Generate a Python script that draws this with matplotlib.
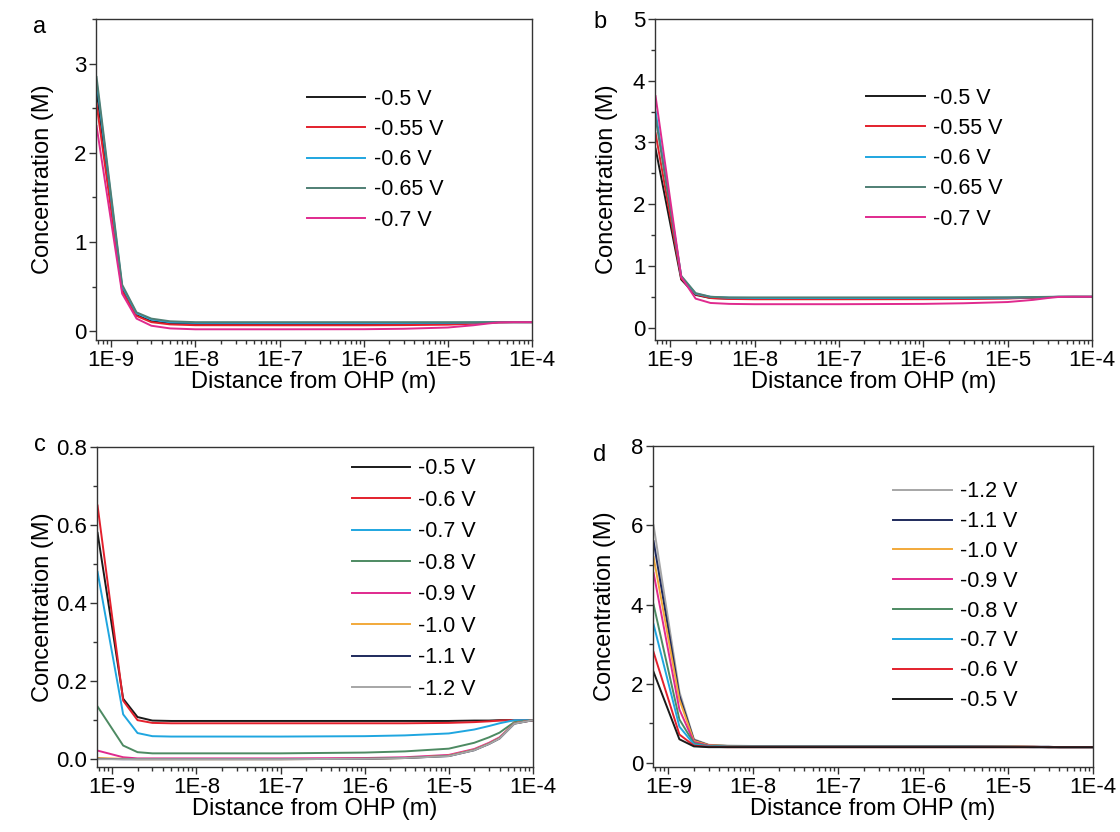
import numpy as np
import matplotlib
matplotlib.use("Agg")
import matplotlib.pyplot as plt
from matplotlib.ticker import FixedLocator, NullFormatter, LogLocator

plt.rcParams['font.family'] = ['Liberation Sans', 'DejaVu Sans']

# distance grid (m)
x = np.array([0.67e-9, 1.35e-9, 2e-9, 3e-9, 5e-9, 1e-8, 1e-7, 1e-6, 3e-6,
              1e-5, 2e-5, 3e-5, 4e-5, 6e-5, 1e-4])

# ---- panel a (bulk 0.1 M)
a_labels = ['-0.5 V', '-0.55 V', '-0.6 V', '-0.65 V', '-0.7 V']
a_m050 = [2.70, 0.48, 0.18, 0.11, 0.085, 0.080, 0.080, 0.080, 0.081, 0.084, 0.090, 0.095, 0.099, 0.100, 0.100]
a_m055 = [2.55, 0.45, 0.17, 0.10, 0.075, 0.066, 0.065, 0.065, 0.067, 0.072, 0.082, 0.091, 0.098, 0.100, 0.100]
a_m060 = [2.80, 0.50, 0.20, 0.13, 0.100, 0.092, 0.090, 0.090, 0.091, 0.093, 0.096, 0.098, 0.100, 0.100, 0.100]
a_m065 = [2.85, 0.52, 0.21, 0.14, 0.110, 0.100, 0.100, 0.100, 0.100, 0.100, 0.100, 0.100, 0.100, 0.100, 0.100]
a_m070 = [2.30, 0.42, 0.14, 0.06, 0.030, 0.020, 0.020, 0.021, 0.026, 0.040, 0.065, 0.085, 0.097, 0.100, 0.100]

# ---- panel b (bulk 0.5 M)
b_labels = ['-0.5 V', '-0.55 V', '-0.6 V', '-0.65 V', '-0.7 V']
b_m050 = [2.90, 0.78, 0.53, 0.48, 0.470, 0.470, 0.470, 0.470, 0.472, 0.478, 0.488, 0.495, 0.499, 0.500, 0.500]
b_m055 = [3.15, 0.80, 0.54, 0.48, 0.465, 0.460, 0.460, 0.461, 0.464, 0.472, 0.485, 0.494, 0.499, 0.500, 0.500]
b_m060 = [3.50, 0.83, 0.55, 0.50, 0.485, 0.480, 0.480, 0.480, 0.481, 0.485, 0.492, 0.497, 0.500, 0.500, 0.500]
b_m065 = [3.40, 0.84, 0.56, 0.50, 0.490, 0.490, 0.490, 0.490, 0.490, 0.492, 0.496, 0.499, 0.500, 0.500, 0.500]
b_m070 = [3.75, 0.82, 0.47, 0.40, 0.385, 0.380, 0.380, 0.385, 0.395, 0.415, 0.450, 0.480, 0.497, 0.500, 0.500]

# ---- panel c (bulk 0.1 M)
c_labels = ['-0.5 V', '-0.6 V', '-0.7 V', '-0.8 V', '-0.9 V', '-1.0 V', '-1.1 V', '-1.2 V']
c_m05 = [0.58, 0.155, 0.108, 0.099, 0.098, 0.098, 0.098, 0.098, 0.098, 0.098, 0.099, 0.099, 0.100, 0.100, 0.100]
c_m06 = [0.65, 0.150, 0.100, 0.093, 0.092, 0.092, 0.092, 0.092, 0.092, 0.093, 0.095, 0.097, 0.099, 0.100, 0.100]
c_m07 = [0.48, 0.115, 0.067, 0.059, 0.058, 0.058, 0.058, 0.059, 0.061, 0.066, 0.076, 0.085, 0.092, 0.100, 0.100]
c_m08 = [0.135, 0.035, 0.018, 0.015, 0.015, 0.015, 0.015, 0.017, 0.020, 0.027, 0.042, 0.056, 0.068, 0.095, 0.100]
c_m09 = [0.022, 0.005, 0.002, 0.002, 0.002, 0.002, 0.002, 0.003, 0.005, 0.011, 0.026, 0.042, 0.056, 0.092, 0.100]
c_m10 = [0.003, 0.001, 0.000, 0.000, 0.000, 0.000, 0.000, 0.001, 0.003, 0.009, 0.024, 0.040, 0.054, 0.092, 0.100]
c_m11 = [0.001, 0.000, 0.000, 0.000, 0.000, 0.000, 0.000, 0.001, 0.003, 0.008, 0.023, 0.039, 0.053, 0.091, 0.100]
c_m12 = [0.000, 0.000, 0.000, 0.000, 0.000, 0.000, 0.000, 0.001, 0.003, 0.008, 0.023, 0.039, 0.053, 0.091, 0.100]

# ---- panel d (bulk 0.4 M)
d_labels = ['-1.2 V', '-1.1 V', '-1.0 V', '-0.9 V', '-0.8 V', '-0.7 V', '-0.6 V', '-0.5 V']
d_m12 = [6.00, 1.80, 0.60, 0.46, 0.44, 0.43, 0.43, 0.43, 0.43, 0.42, 0.41, 0.41, 0.40, 0.40, 0.40]
d_m11 = [5.60, 1.70, 0.58, 0.45, 0.43, 0.43, 0.43, 0.43, 0.43, 0.42, 0.41, 0.41, 0.40, 0.40, 0.40]
d_m10 = [5.20, 1.60, 0.56, 0.45, 0.43, 0.42, 0.42, 0.42, 0.42, 0.42, 0.41, 0.40, 0.40, 0.40, 0.40]
d_m09 = [4.80, 1.35, 0.53, 0.44, 0.42, 0.42, 0.42, 0.42, 0.42, 0.41, 0.41, 0.40, 0.40, 0.40, 0.40]
d_m08 = [4.00, 1.10, 0.50, 0.43, 0.42, 0.42, 0.42, 0.42, 0.42, 0.41, 0.41, 0.40, 0.40, 0.40, 0.40]
d_m07 = [3.50, 0.92, 0.47, 0.42, 0.41, 0.41, 0.41, 0.41, 0.41, 0.41, 0.40, 0.40, 0.40, 0.40, 0.40]
d_m06 = [2.80, 0.72, 0.44, 0.41, 0.40, 0.40, 0.40, 0.40, 0.40, 0.40, 0.40, 0.40, 0.40, 0.40, 0.40]
d_m05 = [2.30, 0.60, 0.42, 0.40, 0.40, 0.40, 0.40, 0.40, 0.40, 0.40, 0.40, 0.40, 0.40, 0.40, 0.40]

BLACK = '#1a1a1a'
RED = '#e3202c'
CYAN = '#1fa6e0'
TEAL = '#4f7f74'
GREEN = '#4d8a62'
MAGENTA = '#e02a8e'
ORANGE = '#f2a93a'
NAVY = '#1e2a5c'
GRAY = '#a6a6a6'

xticks = [1e-9, 1e-8, 1e-7, 1e-6, 1e-5, 1e-4]
xticklabels = ['1E-9', '1E-8', '1E-7', '1E-6', '1E-5', '1E-4']

fig = plt.figure(figsize=(11.2, 8.32), dpi=100)
W, H = 1120, 832

def make_ax(l, r, t, b):
    return fig.add_axes([l / W, 1 - b / H, (r - l) / W, (b - t) / H])

TICKFS = 16
LABFS = 17
LEGFS = 15.5

def style(ax, ylim, yticks, ylabels, yminor, ylab_x):
    ax.set_xscale('log')
    ax.set_xlim(6.6e-10, 1e-4)
    ax.set_ylim(*ylim)
    ax.xaxis.set_major_locator(FixedLocator(xticks))
    ax.set_xticklabels(xticklabels)
    ax.xaxis.set_minor_locator(LogLocator(base=10, subs=np.arange(2, 10)))
    ax.xaxis.set_minor_formatter(NullFormatter())
    ax.set_yticks(yticks)
    ax.set_yticklabels(ylabels)
    ax.yaxis.set_minor_locator(FixedLocator(yminor))
    ax.tick_params(which='both', direction='out', top=False, right=False,
                   labelsize=TICKFS, width=1, color='#333333', pad=2)
    ax.tick_params(which='major', length=5)
    ax.tick_params(which='minor', length=3)
    for s in ax.spines.values():
        s.set_linewidth(1.0)
        s.set_color('#333333')
    ax.set_xlabel('Distance from OHP (m)', fontsize=LABFS, labelpad=0)
    ax.set_ylabel('Concentration (M)', fontsize=LABFS)
    ax.yaxis.set_label_coords(ylab_x, 0.5)

LW = 1.4
LEGKW = dict(loc='upper left', frameon=False, fontsize=LEGFS, handlelength=2.7,
             handletextpad=0.4, borderaxespad=0)

# panel a
ax = make_ax(96, 532, 19, 340)
for y, c, lab in zip([a_m050, a_m055, a_m060, a_m065, a_m070],
                     [BLACK, RED, CYAN, TEAL, MAGENTA], a_labels):
    ax.plot(x, y, color=c, lw=LW, label=lab)
style(ax, (-0.1, 3.5), [0, 1, 2, 3], ['0', '1', '2', '3'], [0.5, 1.5, 2.5, 3.5], -0.096)
ax.legend(bbox_to_anchor=(0.465, 0.81), labelspacing=0.43, **LEGKW)
fig.text(40 / W, 1 - 27 / H, 'a', fontsize=17, ha='center', va='center')

# panel b
ax = make_ax(655, 1092, 19, 340)
for y, c, lab in zip([b_m050, b_m055, b_m060, b_m065, b_m070],
                     [BLACK, RED, CYAN, TEAL, MAGENTA], b_labels):
    ax.plot(x, y, color=c, lw=LW, label=lab)
style(ax, (-0.2, 5.0), [0, 1, 2, 3, 4, 5], ['0', '1', '2', '3', '4', '5'],
      [0.5, 1.5, 2.5, 3.5, 4.5], -0.085)
ax.legend(bbox_to_anchor=(0.464, 0.813), labelspacing=0.43, **LEGKW)
fig.text(600 / W, 1 - 22 / H, 'b', fontsize=17, ha='center', va='center')

# panel c
ax = make_ax(97, 533, 447, 767)
for y, c, lab in zip([c_m05, c_m06, c_m07, c_m08, c_m09, c_m10, c_m11, c_m12],
                     [BLACK, RED, CYAN, GREEN, MAGENTA, ORANGE, NAVY, GRAY], c_labels):
    ax.plot(x, y, color=c, lw=LW, label=lab)
style(ax, (-0.02, 0.8), [0.0, 0.2, 0.4, 0.6, 0.8], ['0.0', '0.2', '0.4', '0.6', '0.8'],
      [0.1, 0.3, 0.5, 0.7], -0.099)
ax.legend(bbox_to_anchor=(0.564, 0.992), labelspacing=0.49, **LEGKW)
fig.text(40 / W, 1 - 445 / H, 'c', fontsize=17, ha='center', va='center')

# panel d
ax = make_ax(653, 1093, 446, 767)
for y, c, lab in zip([d_m12, d_m11, d_m10, d_m09, d_m08, d_m07, d_m06, d_m05],
                     [GRAY, NAVY, ORANGE, MAGENTA, GREEN, CYAN, RED, BLACK], d_labels):
    ax.plot(x, y, color=c, lw=LW, label=lab)
style(ax, (-0.1, 8.0), [0, 2, 4, 6, 8], ['0', '2', '4', '6', '8'], [1, 3, 5, 7], -0.084)
ax.legend(bbox_to_anchor=(0.527, 0.917), labelspacing=0.41, **LEGKW)
fig.text(600 / W, 1 - 455 / H, 'd', fontsize=17, ha='center', va='center')

fig.savefig('out.png', dpi=100)
